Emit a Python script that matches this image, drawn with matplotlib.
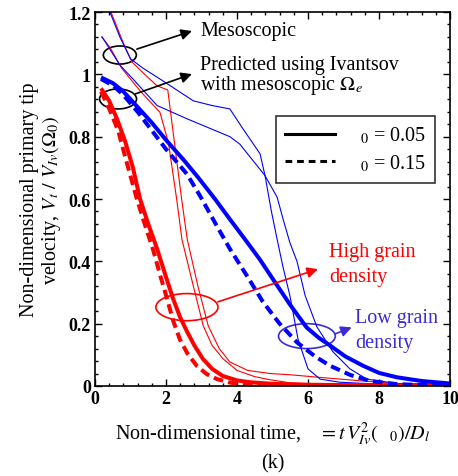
import matplotlib
matplotlib.use("Agg")
import matplotlib.pyplot as plt
from matplotlib.patches import Ellipse
from matplotlib.lines import Line2D

plt.rcParams["font.family"] = ["Liberation Serif", "DejaVu Serif"]
plt.rcParams["mathtext.fontset"] = "stix"

# Ivantsov prediction, high grain density
red_x_005 = [0.17, 0.4, 0.62, 0.85, 1.07, 1.27, 1.5, 1.75, 2.0, 2.2, 2.4, 2.6, 2.8, 3.04, 3.3, 3.6, 4.0, 4.37, 5.0, 6.0, 8.0, 10.0]
red_y_005 = [0.955, 0.915, 0.857, 0.785, 0.70, 0.60, 0.52, 0.44, 0.35, 0.28, 0.22, 0.173, 0.13, 0.087, 0.055, 0.032, 0.018, 0.012, 0.007, 0.004, 0.002, 0.001]
red_x_015 = [0.17, 0.4, 0.65, 0.9, 1.18, 1.4, 1.63, 1.85, 2.03, 2.2, 2.39, 2.6, 2.87, 3.15, 3.44, 3.8, 4.08, 5.0, 7.0, 10.0]
red_y_015 = [0.945, 0.89, 0.82, 0.715, 0.60, 0.52, 0.44, 0.35, 0.28, 0.21, 0.15, 0.105, 0.064, 0.038, 0.022, 0.011, 0.006, 0.003, 0.001, 0.0005]

# Ivantsov prediction, low grain density
blue_x_005 = [0.17, 0.5, 0.79, 1.2, 1.6, 2.02, 2.5, 2.9, 3.38, 3.8, 4.23, 4.65, 5.0, 5.5, 5.96, 6.3, 6.62, 7.05, 7.55, 8.0, 8.5, 9.2, 10.0]
blue_y_005 = [0.99, 0.972, 0.946, 0.895, 0.845, 0.787, 0.725, 0.67, 0.60, 0.535, 0.47, 0.405, 0.345, 0.26, 0.188, 0.155, 0.13, 0.095, 0.065, 0.042, 0.028, 0.016, 0.008]
blue_x_015 = [0.17, 0.5, 0.79, 1.2, 1.6, 2.0, 2.59, 2.96, 3.4, 3.8, 4.3, 4.73, 5.2, 5.69, 6.2, 6.62, 7.2, 7.75, 8.5, 9.2, 10.0]
blue_y_015 = [0.985, 0.965, 0.935, 0.88, 0.82, 0.76, 0.68, 0.61, 0.52, 0.44, 0.35, 0.27, 0.20, 0.14, 0.095, 0.065, 0.035, 0.016, 0.006, 0.003, 0.002]

# Mesoscopic model, high grain density
meso_red_x_a = [0.45, 0.8, 1.04, 1.4, 1.75, 2.05, 2.44, 2.6, 2.9, 3.19, 3.5, 3.8, 4.3, 4.93, 5.5, 6.6, 7.55, 8.5, 10.0]
meso_red_y_a = [1.2, 1.1, 1.04, 1.0, 0.963, 0.95, 0.6, 0.47, 0.32, 0.193, 0.12, 0.077, 0.05, 0.04, 0.036, 0.025, 0.016, 0.008, 0.004]
meso_red_x_b = [0.19, 0.42, 0.75, 1.27, 1.83, 2.07, 2.3, 2.45, 2.75, 3.05, 3.3, 3.61, 4.0, 4.5, 4.93, 5.5, 6.5, 10.0]
meso_red_y_b = [1.12, 1.087, 1.02, 0.947, 0.878, 0.78, 0.6, 0.47, 0.33, 0.193, 0.13, 0.087, 0.05, 0.03, 0.02, 0.01, 0.005, 0.002]

# Mesoscopic model, low grain density
meso_blue_x_a = [0.42, 0.7, 1.0, 1.35, 1.9, 2.77, 3.3, 3.8, 4.14, 4.65, 4.79, 4.97, 5.15, 5.3, 5.49, 5.72, 6.0, 6.34, 6.9, 8.0, 10.0]
meso_blue_y_a = [1.2, 1.12, 1.05, 1.02, 0.98, 0.915, 0.90, 0.889, 0.83, 0.745, 0.675, 0.56, 0.46, 0.38, 0.29, 0.15, 0.055, 0.022, 0.012, 0.006, 0.003]
meso_blue_x_b = [0.2, 0.7, 1.07, 1.75, 2.6, 3.8, 4.08, 4.79, 5.13, 5.3, 5.49, 5.69, 5.92, 6.25, 6.7, 7.18, 7.66, 8.5, 10.0]
meso_blue_y_b = [1.12, 1.03, 0.985, 0.90, 0.857, 0.80, 0.776, 0.675, 0.606, 0.535, 0.46, 0.40, 0.29, 0.19, 0.11, 0.055, 0.022, 0.008, 0.003]

x_ticks = [0, 2, 4, 6, 8, 10]
x_tick_labels = ["0", "2", "4", "6", "8", "10"]
y_ticks = [0, 0.2, 0.4, 0.6, 0.8, 1.0, 1.2]
y_tick_labels = ["0", "0.2", "0.4", "0.6", "0.8", "1", "1.2"]
legend_labels = [r"$\;\;\;{}_{0}$ = 0.05", r"$\;\;\;{}_{0}$ = 0.15"]

RED = "#ff0000"
BLUE = "#0000ff"
VIOLET = "#3a2bd6"
THICK = 2.9
THIN = 0.8
DASH = (2.4, 1.3)
FS = 14.5

fig = plt.figure(figsize=(4.58, 4.77), dpi=100)
ax = fig.add_axes([0.2074, 0.1887, 0.7751, 0.784])

ax.plot(meso_red_x_a, meso_red_y_a, color=RED, lw=THIN)
ax.plot(meso_red_x_b, meso_red_y_b, color=RED, lw=THIN)
ax.plot(meso_blue_x_a, meso_blue_y_a, color=BLUE, lw=THIN)
ax.plot(meso_blue_x_b, meso_blue_y_b, color=BLUE, lw=THIN)

ax.plot(red_x_005, red_y_005, color=RED, lw=THICK, solid_capstyle="butt")
ax.plot(red_x_015, red_y_015, color=RED, lw=THICK, dashes=DASH, dash_capstyle="butt")
ax.plot(blue_x_005, blue_y_005, color=BLUE, lw=THICK, solid_capstyle="butt")
ax.plot(blue_x_015, blue_y_015, color=BLUE, lw=THICK, dashes=DASH, dash_capstyle="butt")

ax.set_xlim(0, 10)
ax.set_ylim(0, 1.2)
ax.set_xticks(x_ticks)
ax.set_xticklabels(x_tick_labels, fontweight="bold", fontsize=13)
ax.set_yticks(y_ticks)
ax.set_yticklabels(y_tick_labels, fontweight="bold", fontsize=13)
ax.set_xticks([i * 0.4 for i in range(26)], minor=True)
ax.set_yticks([i * 0.04 for i in range(31)], minor=True)
ax.tick_params(which="both", direction="in", top=True, right=True, width=1.0)
ax.tick_params(which="major", length=5, pad=3)
ax.tick_params(which="minor", length=2.5)
for s in ax.spines.values():
    s.set_linewidth(1.2)

ax.set_ylabel("Non-dimensional primary tip\n" + r"velocity, $V_t\ /\ V_{Iv}(\Omega_0)$",
              fontsize=FS, linespacing=1.05, labelpad=4)
ax.set_xlabel(r"Non-dimensional time,  $\;\;=t\,V_{Iv}^{2}\left(\;\;\;{}_{0}\right)/D_{l}$"
              + "\n(k)", fontsize=FS, linespacing=1.4, labelpad=9)

# legend
handles = [Line2D([], [], color="k", lw=2.2),
           Line2D([], [], color="k", lw=2.2, dashes=(2.2, 1.6), dash_capstyle="butt")]
leg = ax.legend(handles, legend_labels, loc="upper left", bbox_to_anchor=(0.51, 0.722),
                fontsize=FS, handlelength=2.5, handletextpad=0.6, borderpad=0.45,
                labelspacing=0.35, fancybox=False, framealpha=1, edgecolor="#333333",
                borderaxespad=0)
leg.get_frame().set_linewidth(1.2)

# annotations
arrow_kw = dict(arrowstyle="-|>", mutation_scale=16, shrinkA=0, shrinkB=0)
ax.add_patch(Ellipse((0.70, 1.062), 0.93, 0.058, fill=False, ec="k", lw=1.2))
ax.add_patch(Ellipse((0.65, 0.921), 1.04, 0.064, fill=False, ec="k", lw=1.2))
ax.annotate("", xy=(2.73, 1.139), xytext=(1.18, 1.081),
            arrowprops=dict(color="k", lw=1.2, **arrow_kw))
ax.annotate("", xy=(2.73, 1.001), xytext=(1.13, 0.937),
            arrowprops=dict(color="k", lw=1.2, **arrow_kw))
ax.text(2.96, 1.126, "Mesoscopic", fontsize=FS, va="baseline")
ax.text(2.96, 1.017, "Predicted using Ivantsov", fontsize=FS, va="baseline")
ax.text(2.96, 0.953, r"with mesoscopic $\Omega_e$", fontsize=FS, va="baseline")

ax.add_patch(Ellipse((2.59, 0.253), 1.75, 0.087, fill=False, ec=RED, lw=1.2))
ax.annotate("", xy=(6.28, 0.375), xytext=(3.46, 0.27),
            arrowprops=dict(color=RED, lw=1.2, **arrow_kw))
ax.text(6.59, 0.417, "High grain", fontsize=FS, color=RED, va="baseline")
ax.text(6.59, 0.337, "density", fontsize=FS, color=RED, va="baseline")

ax.add_patch(Ellipse((5.97, 0.160), 1.6, 0.08, fill=False, ec=VIOLET, lw=1.2))
ax.annotate("", xy=(7.23, 0.188), xytext=(6.76, 0.167),
            arrowprops=dict(color=VIOLET, lw=1.2, **arrow_kw))
ax.text(7.32, 0.205, "Low grain", fontsize=FS, color=VIOLET, va="baseline")
ax.text(7.32, 0.125, "density", fontsize=FS, color=VIOLET, va="baseline")

fig.savefig("out.png", dpi=100)
